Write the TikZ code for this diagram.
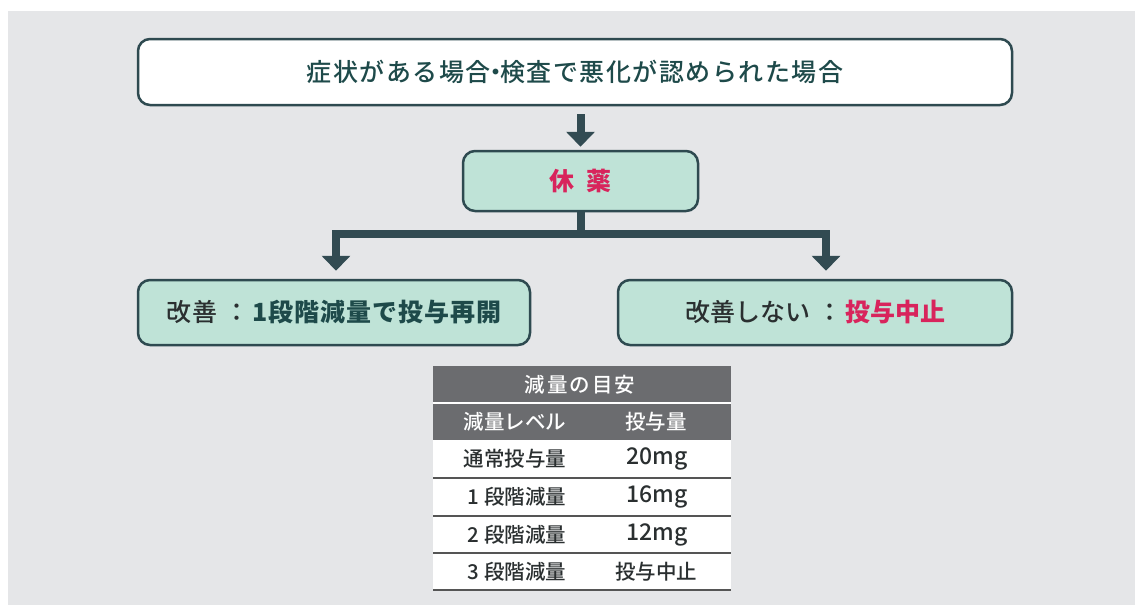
\documentclass[tikz,border=0pt]{standalone}
\usepackage{fontspec}
\setmainfont{Noto Sans CJK JP}
\newfontfamily\medfont{Noto Sans CJK JP}[UprightFont={* Medium}, BoldFont={* Black}]
\usetikzlibrary{arrows.meta}
\definecolor{bgc}{HTML}{E5E6E8}
\definecolor{bord}{HTML}{2E4A50}
\definecolor{arrc}{HTML}{324B52}
\definecolor{mint}{HTML}{BFE3D7}
\definecolor{pinkc}{HTML}{D8245C}
\definecolor{teal}{HTML}{1E4A4A}
\definecolor{darkt}{HTML}{2A2F30}
\definecolor{thead}{HTML}{6B6C6F}
\definecolor{rowline}{HTML}{555555}
\newcommand{\hv}[1]{{\bfseries #1}}
\tikzset{
  box/.style={draw=bord, line width=2.5pt, rounded corners=12pt, inner sep=0pt},
  whitebox/.style={box, fill=white},
  mintbox/.style={box, fill=mint},
  arr/.style={draw=arrc, line width=8pt, line join=miter, -{Triangle[width=28pt,length=15pt]}},
  thick bar/.style={draw=arrc, line width=8pt},
  bigtxt/.style={font=\medfont\fontsize{25}{28}\selectfont},
  tabtxt/.style={font=\medfont\fontsize{20.5}{24}\selectfont, inner sep=0pt},
}
\begin{document}
\begin{tikzpicture}[x=1pt,y=-1pt]
\useasboundingbox (0,0) rectangle (1138,605);
\fill[bgc] (8,11) rectangle (1135,605);
% boxes
\node[whitebox, minimum width=874pt, minimum height=66pt, bigtxt, text=teal] (top) at (575,72) {\addfontfeature{LetterSpace=6}症状がある場合\hspace{-0.3em}・\hspace{-0.3em}検査で悪化が認められた場合};
\node[mintbox, minimum width=235pt, minimum height=60pt, bigtxt, text=pinkc] (rest) at (580.5,181) {\hv{休\hspace{0.5em}薬}};
\node[mintbox, minimum width=392pt, minimum height=65pt, bigtxt, text=darkt] (left) at (334,312.5) {\addfontfeature{LetterSpace=4}改善\hspace{0.3em}：\hspace{0.1em}\textcolor{teal}{\hv{1段階減量で投与再開}}};
\node[mintbox, minimum width=394pt, minimum height=65pt, bigtxt, text=darkt] (right) at (815,312.5) {改善しない\hspace{0.3em}：\hspace{0.1em}\textcolor{pinkc}{\hv{投与中止}}};
% arrows
\draw[arr, shorten <=8pt, shorten >=3pt] (top.south -| rest.north) -- (rest.north);
\coordinate (jn) at (580.5,234);
\draw[thick bar] (rest.south) -- (jn);
\draw[arr, shorten >=8pt] (jn) -| ([xshift=2pt]left.north);
\draw[arr, shorten >=8pt] (jn) -| ([xshift=11pt]right.north);
% table
\fill[thead] (433,366) rectangle (731,440);
\draw[white, line width=1.2pt] (433,403) -- (731,403);
\fill[white] (433,440) rectangle (731,590);
\foreach \yy in {478,516,553,590} \draw[rowline, line width=1.2pt] (433,\yy) -- (731,\yy);
\node[tabtxt, text=white] (th) at (580,384.5) {減\hspace{0.1em}量\hspace{0.1em}の\hspace{0.1em}目\hspace{0.1em}安};
\node[tabtxt, text=white] (h1) at (515,421.5) {減量レベル};
\node[tabtxt, text=white] (h2) at (656,421.5) {投与量};
\node[tabtxt, text=darkt] (r1a) at (515,459) {通常投与量};
\node[tabtxt, text=darkt] (r1b) at (657,459) {\fontsize{23}{26}\selectfont 20mg};
\node[tabtxt, text=darkt] (r2a) at (517,497) {1 段階減量};
\node[tabtxt, text=darkt] (r2b) at (657,497) {\fontsize{23}{26}\selectfont 16mg};
\node[tabtxt, text=darkt] (r3a) at (517,534.5) {2 段階減量};
\node[tabtxt, text=darkt] (r3b) at (657,534.5) {\fontsize{23}{26}\selectfont 12mg};
\node[tabtxt, text=darkt] (r4a) at (517,571.5) {3 段階減量};
\node[tabtxt, text=darkt] (r4b) at (656,571.5) {投与中止};
\end{tikzpicture}
\end{document}
